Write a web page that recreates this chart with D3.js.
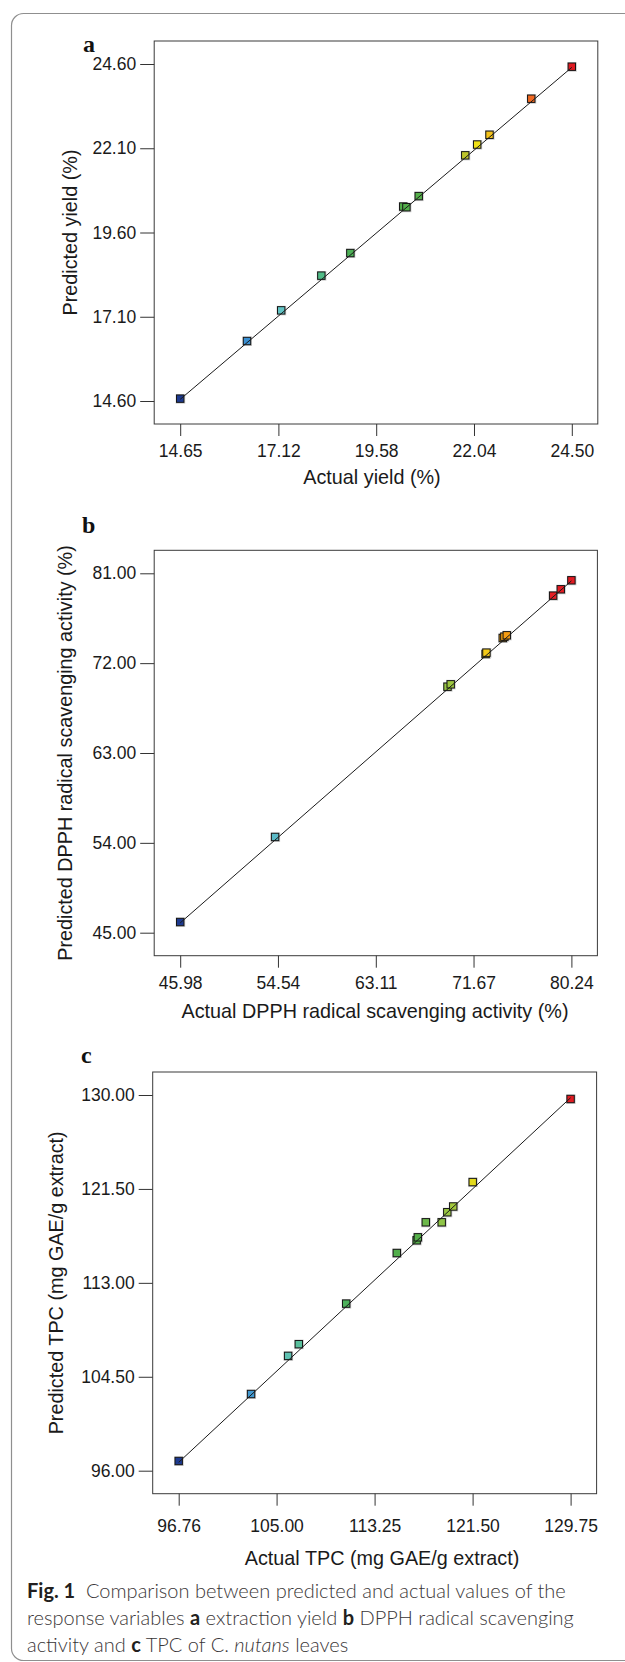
<!DOCTYPE html>
<html><head><meta charset="utf-8">
<script src="https://cdn.jsdelivr.net/npm/d3@7"></script>
<style>body{margin:0;background:#fff} svg{display:block}</style>
</head><body>
<svg id="chart" width="625" height="1662"></svg>
<script>
// ---------- data ----------
const yieldActual    = [14.65, 16.33, 17.19, 18.20, 18.93, 20.26, 20.34, 20.65, 21.82, 22.12, 22.43, 23.48, 24.50];
const yieldPredicted = [14.67, 16.38, 17.29, 18.32, 18.99, 20.37, 20.35, 20.68, 21.89, 22.21, 22.50, 23.57, 24.52];
const yieldXTicks = [14.65, 17.12, 19.58, 22.04, 24.50];
const yieldYTicks = [14.60, 17.10, 19.60, 22.10, 24.60];

const dpphActual    = [45.98, 54.29, 69.39, 69.67, 72.73, 72.80, 74.23, 74.37, 74.58, 78.64, 79.31, 80.24];
const dpphPredicted = [46.07, 54.59, 69.64, 69.88, 72.92, 73.05, 74.52, 74.65, 74.79, 78.76, 79.40, 80.30];
const dpphXTicks = [45.98, 54.54, 63.11, 71.67, 80.24];
const dpphYTicks = [45.00, 54.00, 63.00, 72.00, 81.00];

const tpcActual    = [96.76, 102.85, 105.97, 106.87, 110.86, 115.12, 116.79, 116.89, 117.56, 118.90, 119.37, 119.87, 121.51, 129.75];
const tpcPredicted = [96.88, 102.94, 106.39, 107.45, 111.12, 115.70, 116.85, 117.12, 118.48, 118.48, 119.39, 119.91, 122.12, 129.64];
const tpcXTicks = [96.76, 105.00, 113.25, 121.50, 129.75];
const tpcYTicks = [96.00, 104.50, 113.00, 121.50, 130.00];

const panelLabels = ['a', 'b', 'c'];
const xTitles = ['Actual yield (%)', 'Actual DPPH radical scavenging activity (%)', 'Actual TPC (mg GAE/g extract)'];
const yTitles = ['Predicted yield (%)', 'Predicted DPPH radical scavenging activity (%)', 'Predicted TPC (mg GAE/g extract)'];

// ---------- style / layout ----------
const FONT = "'Liberation Sans', Arial, sans-serif";
const colorStops = [0, .17, .26, .30, .36, .45, .61, .63, .67, .70, .73, .76, .79, .83, .90, .95, 1];
const colorRange = ['#1d3a8f','#3a8fd2','#63c4c4','#5abf9f','#50bb87','#4cae4c','#55b04a','#6cb84a','#8ec548','#a3c83c','#c0c52a','#f3e315','#f5c31a','#f5a011','#f06522','#e41e25','#e01b22'];

const layouts = [
  {box:{l:154.2,t:41,r:597.8,b:424},      lab:[83,52],   tickLblGap:8.5, xTitleY:484,  xTitleX:372, yTitleX:77},
  {box:{l:154.2,t:550.3,r:597.4,b:955.7}, lab:[82,533],  tickLblGap:9,   xTitleY:1018, xTitleX:375, yTitleX:72},
  {box:{l:152.7,t:1072,r:596.6,b:1493.7}, lab:[81,1063], tickLblGap:14,  xTitleY:1565, xTitleX:382, yTitleX:63}
];
const data = [
  {actual:yieldActual, predicted:yieldPredicted, xt:yieldXTicks, yt:yieldYTicks},
  {actual:dpphActual, predicted:dpphPredicted, xt:dpphXTicks, yt:dpphYTicks},
  {actual:tpcActual, predicted:tpcPredicted, xt:tpcXTicks, yt:tpcYTicks}
];

const svg = d3.select('#chart');
svg.append('rect').attr('x',11.5).attr('y',13.5).attr('width',660).attr('height',1647)
  .attr('rx',12).attr('fill','none').attr('stroke','#8f8f8f').attr('stroke-width',1.2);

const fmt = d3.format('.2f');
const INX = 26, INY = 23;

data.forEach((d, i) => {
  const L = layouts[i], B = L.box;
  const g = svg.append('g');
  const x = d3.scaleLinear().domain([d.xt[0], d.xt[d.xt.length-1]]).range([B.l + INX, B.r - INX]);
  const y = d3.scaleLinear().domain([d.yt[0], d.yt[d.yt.length-1]]).range([B.b - INY, B.t + INY]);
  const amin = d3.min(d.actual), amax = d3.max(d.actual);
  const color = d3.scaleLinear().domain(colorStops.map(t => amin + t*(amax-amin))).range(colorRange);

  g.append('rect').attr('x',B.l).attr('y',B.t).attr('width',B.r-B.l).attr('height',B.b-B.t)
    .attr('fill','none').attr('stroke','#3a3a3a').attr('stroke-width',1);

  const xa = g.append('g').attr('transform',`translate(0,${B.b})`)
    .call(d3.axisBottom(x).tickValues(d.xt).tickFormat(fmt).tickSize(12).tickPadding(L.tickLblGap));
  const ya = g.append('g').attr('transform',`translate(${B.l},0)`)
    .call(d3.axisLeft(y).tickValues(d.yt).tickFormat(fmt).tickSize(14).tickPadding(4));
  [xa, ya].forEach(a => {
    a.select('.domain').remove();
    a.selectAll('line').attr('stroke','#333');
    a.selectAll('text').attr('fill','#1a1a1a').style('font-family',FONT).style('font-size','17.5px');
  });

  const pts = d.actual.map((v, k) => ({a:v, p:d.predicted[k]}));
  g.selectAll('rect.halo').data(pts).enter().append('rect').attr('class','halo')
    .attr('x', p => x(p.a)-4.5).attr('y', p => y(p.p)-4.5).attr('width',9.5).attr('height',9.5)
    .attr('fill','#b8b8b8').attr('opacity',0.75);
  g.selectAll('rect.pt').data(pts).enter().append('rect').attr('class','pt')
    .attr('x', p => x(p.a)-3.7).attr('y', p => y(p.p)-3.7).attr('width',7.4).attr('height',7.4)
    .attr('fill', p => color(p.a)).attr('stroke','#151515').attr('stroke-width',1);

  g.append('line').attr('x1',x(amin)).attr('y1',y(amin)).attr('x2',x(amax)).attr('y2',y(amax))
    .attr('stroke','#1a1a1a').attr('stroke-width',1);

  g.append('text').attr('x',L.xTitleX).attr('y',L.xTitleY).attr('text-anchor','middle')
    .style('font-family',FONT).style('font-size','19.8px').attr('fill','#1a1a1a').text(xTitles[i]);
  g.append('text').attr('transform',`translate(${L.yTitleX},${(B.t+B.b)/2}) rotate(-90)`).attr('text-anchor','middle')
    .style('font-family',FONT).style('font-size','19.8px').attr('fill','#1a1a1a').text(yTitles[i]);
  g.append('text').attr('x',L.lab[0]).attr('y',L.lab[1])
    .style('font-family',"'Liberation Serif', 'Times New Roman', serif").style('font-size','24px')
    .style('font-weight','bold').attr('fill','#111').text(panelLabels[i]);
});

// caption
const capFont = "Lato, 'Open Sans', sans-serif";
const cap = svg.append('g').style('font-family',capFont).style('font-size','18px').attr('fill','#3a3637');
const lines = [
  [['Fig. 1','bold'],['  Comparison between predicted and actual values of the','normal']],
  [['response variables ','normal'],['a','bold'],[' extraction yield ','normal'],['b','bold'],[' DPPH radical scavenging','normal']],
  [['activity and ','normal'],['c','bold'],[' TPC of ','normal'],['C. ','normal'],['nutans','italic'],[' leaves','normal']]
];
const capY = [1598, 1625, 1652];
const capTexts = lines.map((ln, j) => {
  const t = cap.append('text').attr('x',27).attr('y',capY[j]).style('white-space','pre');
  ln.forEach(([s, st]) => {
    const ts = t.append('tspan').text(s);
    if (st === 'bold') ts.style('font-weight','bold').attr('fill','#231f20');
    else ts.style('font-weight','300');
    if (st === 'italic') ts.style('font-style','italic');
  });
  return t;
});
const w0 = capTexts[0].node().getComputedTextLength();
if (w0 > 0) cap.style('font-size', (18 * 539 / w0).toFixed(2) + 'px');
</script>
</body></html>
